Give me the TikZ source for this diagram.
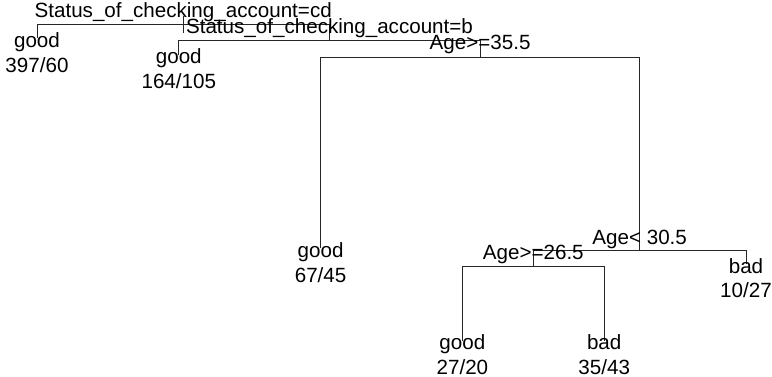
\documentclass[tikz,border=0pt]{standalone}
\usepackage{fontspec}
\setmainfont{Liberation Sans}
\begin{document}
\begin{tikzpicture}[x=1pt,y=-1pt,
  branch/.style={draw=black!85,line width=1pt},
  txt/.style={inner sep=0pt,anchor=base,font=\fontsize{20.6}{24}\selectfont}]
\useasboundingbox (0,0) rectangle (772,377);

% tree node positions
\coordinate (n1)  at (183.2,24.3);
\coordinate (n2)  at (37,38.5);
\coordinate (n3)  at (329.5,41);
\coordinate (n6)  at (178.8,55);
\coordinate (n7)  at (480.1,57.3);
\coordinate (n14) at (320.6,248.5);
\coordinate (n15) at (639.7,251);
\coordinate (n30) at (533.3,267);
\coordinate (n31) at (746,264.5);
\coordinate (n60) at (462.4,340.5);
\coordinate (n61) at (604.2,340.5);
\coordinate (rtop) at (183.2,16);
\coordinate (rbot) at (183.2,33);

% branches
\draw[branch] (rtop) -- (rbot);
\draw[branch] (n2) |- (n1);
\draw[branch] (n3) |- (n1);
\draw[branch] (n6) |- (n3);
\draw[branch] (n7) |- (n3);
\draw[branch] (n14) |- (n7);
\draw[branch] (n15) |- (n7);
\draw[branch] (n30) |- (n15);
\draw[branch] (n31) |- (n15);
\draw[branch] (n60) |- (n30);
\draw[branch] (n61) |- (n30);

% split labels
\node[txt] (s1)  at (183.2,17.3) {Status\_of\_checking\_account=cd};
\node[txt] (s3)  at (329.5,33.5) {Status\_of\_checking\_account=b};
\node[txt] (s7)  at (480.1,49.8) {Age>=35.5};
\node[txt] (s15) at (639.7,244.2) {Age< 30.5};
\node[txt] (s30) at (533.3,259.8) {Age>=26.5};

% leaf labels
\node[txt] (l2)  at (37,47.3)    {good};
\node[txt] (c2)  at (37,73)      {397/60};
\node[txt] (l6)  at (178.8,63.6) {good};
\node[txt] (c6)  at (178.8,88.8) {164/105};
\node[txt] (l14) at (320.6,257.3){good};
\node[txt] (c14) at (320.6,283)  {67/45};
\node[txt] (l31) at (746,273.5)  {bad};
\node[txt] (c31) at (746,297.5)  {10/27};
\node[txt] (l60) at (462.4,349.3){good};
\node[txt] (c60) at (462.4,374.5){27/20};
\node[txt] (l61) at (604.2,349.3){bad};
\node[txt] (c61) at (604.2,374.5){35/43};
\end{tikzpicture}
\end{document}
